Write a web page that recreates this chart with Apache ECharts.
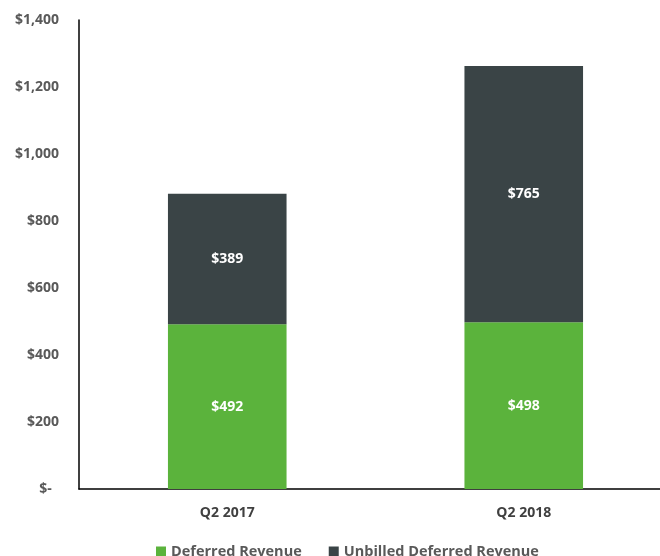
<!DOCTYPE html>
<html>
<head>
<meta charset="utf-8">
<script src="https://cdn.jsdelivr.net/npm/echarts@6/dist/echarts.min.js"></script>
<style>
  html, body { margin: 0; padding: 0; background: #fff; overflow: hidden; }
  /* the plot runs past the right edge of the window, as in the original */
  #chart { width: 672px; height: 556px; }
</style>
</head>
<body>
<div id="chart"></div>
<script>
// 数据
const categories = ["Q2 2017", "Q2 2018"];
const deferred = [492, 498];
const unbilled = [389, 765];

const fontFamily = "'Open Sans', 'Liberation Sans', sans-serif";

function money(v) {
  return "$" + Number(v).toLocaleString("en-US");
}

const chart = echarts.init(document.getElementById("chart"));

const option = {
  animation: false,
  textStyle: { fontFamily: fontFamily },
  grid: {
    left: 79,
    right: 0,
    top: 20,
    bottom: 67,
    containLabel: false,
  },
  legend: {
    top: 539,
    left: 151,
    itemWidth: 10,
    itemHeight: 10,
    itemGap: 27,
    icon: "rect",
    textStyle: { color: "#595959", fontSize: 14.5, fontWeight: "bold", fontFamily: fontFamily },
    data: ["Deferred Revenue", "Unbilled Deferred Revenue"],
  },
  xAxis: {
    type: "category",
    data: categories,
    axisLine: { lineStyle: { color: "#000", width: 1.5 } },
    axisTick: { show: false },
    axisLabel: { color: "#404040", fontSize: 14, fontWeight: "bold", margin: 17 },
  },
  yAxis: {
    type: "value",
    min: 0,
    max: 1400,
    interval: 200,
    axisLine: { show: true, lineStyle: { color: "#000", width: 1.5 } },
    axisTick: { show: false },
    splitLine: { show: false },
    axisLabel: {
      color: "#595959",
      fontSize: 14,
      fontWeight: "bold",
      margin: 20,
      formatter: function (v) {
        return v === 0 ? "$-\u00a0\u00a0" : money(v);
      },
    },
  },
  series: [
    {
      name: "Deferred Revenue",
      type: "bar",
      stack: "total",
      barWidth: "40%",
      data: deferred,
      itemStyle: { color: "#5BB33C" },
      label: {
        show: true,
        position: "inside",
        color: "#fff",
        fontSize: 14,
        fontWeight: "bold",
        formatter: (p) => money(p.value),
      },
    },
    {
      name: "Unbilled Deferred Revenue",
      type: "bar",
      stack: "total",
      barWidth: "40%",
      data: unbilled,
      itemStyle: { color: "#3A4446" },
      label: {
        show: true,
        position: "inside",
        color: "#fff",
        fontSize: 14,
        fontWeight: "bold",
        formatter: (p) => money(p.value),
      },
    },
  ],
};

chart.setOption(option);
</script>
</body>
</html>
